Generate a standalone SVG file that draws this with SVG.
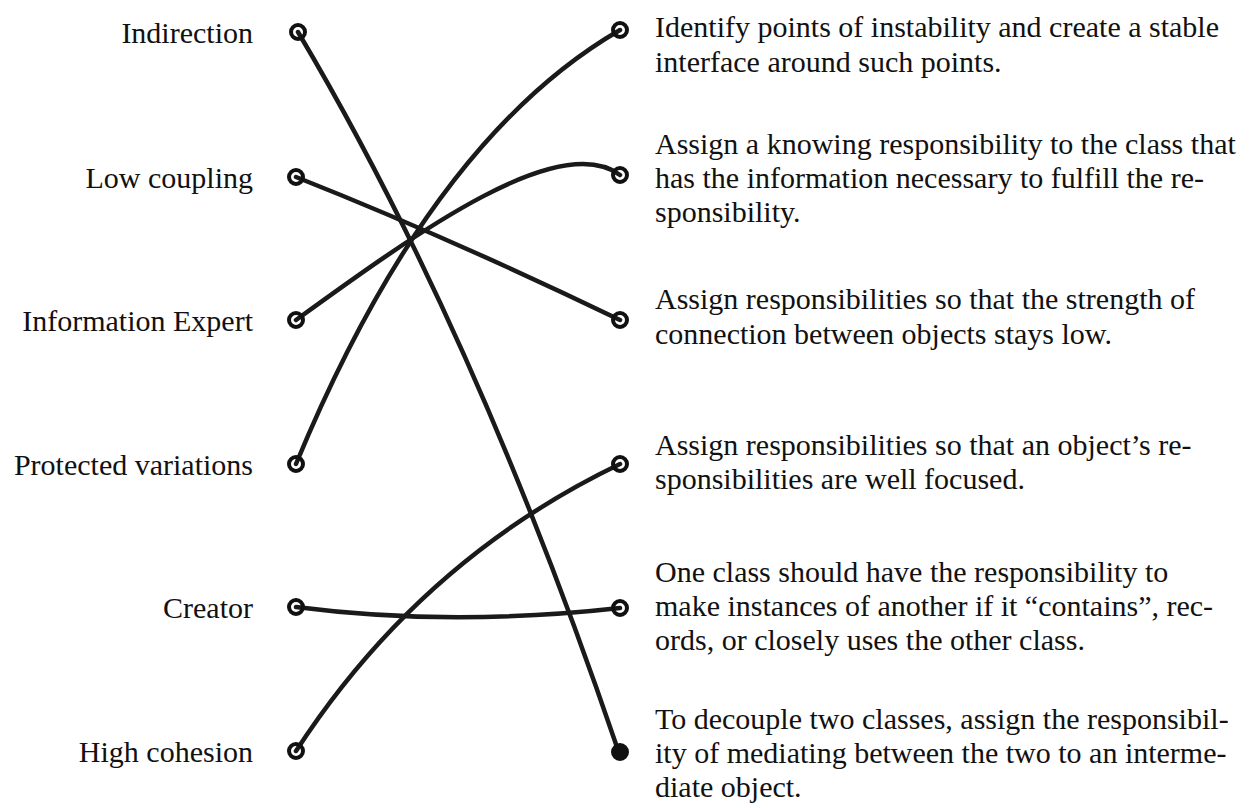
<svg xmlns="http://www.w3.org/2000/svg" width="1250" height="808" viewBox="0 0 1250 808">
<defs>
<style>
.e{fill:none;stroke:#1a1a1a;stroke-width:4.5;stroke-linecap:round}
.c{fill:none;stroke:#111;stroke-width:4}
</style>
</defs>
<rect width="1250" height="808" fill="#fff"/>
<g id="connectors">
<path class="e" d="M298,32 Q475,330 618,750"/>
<path class="e" d="M296,177 Q450,238 620,320"/>
<path class="e" d="M296,320 C420,230 560,130 620,175"/>
<path class="e" d="M296,464 Q430,140 620,30"/>
<path class="e" d="M296,607 Q450,627 620,608"/>
<path class="e" d="M296,751 Q420,560 620,464"/>
</g>
<g font-family="Liberation Serif, Times New Roman, DejaVu Serif, serif" font-size="30" fill="#111">
<g id="left-indirection"><text text-anchor="end" x="253" y="43">Indirection</text><circle class="c" cx="298" cy="32" r="7"/></g>
<g id="left-lowcoupling"><text text-anchor="end" x="253" y="188">Low coupling</text><circle class="c" cx="296" cy="177" r="7"/></g>
<g id="left-infoexpert"><text text-anchor="end" x="253" y="331">Information Expert</text><circle class="c" cx="296" cy="320" r="7"/></g>
<g id="left-protected"><text text-anchor="end" x="253" y="475">Protected variations</text><circle class="c" cx="296" cy="464" r="7"/></g>
<g id="left-creator"><text text-anchor="end" x="253" y="618">Creator</text><circle class="c" cx="296" cy="607" r="7"/></g>
<g id="left-highcohesion"><text text-anchor="end" x="253" y="762">High cohesion</text><circle class="c" cx="296" cy="751" r="7"/></g>
<g id="right-1"><circle class="c" cx="620" cy="30" r="7"/><text x="655" y="37">Identify points of instability and create a stable</text><text x="655" y="72">interface around such points.</text></g>
<g id="right-2"><circle class="c" cx="620" cy="175" r="7"/><text x="655" y="154">Assign a knowing responsibility to the class that</text><text x="655" y="188">has the information necessary to fulfill the re-</text><text x="655" y="222">sponsibility.</text></g>
<g id="right-3"><circle class="c" cx="620" cy="320" r="7"/><text x="655" y="309">Assign responsibilities so that the strength of</text><text x="655" y="344">connection between objects stays low.</text></g>
<g id="right-4"><circle class="c" cx="620" cy="464" r="7"/><text x="655" y="455">Assign responsibilities so that an object’s re-</text><text x="655" y="489">sponsibilities are well focused.</text></g>
<g id="right-5"><circle class="c" cx="620" cy="608" r="7"/><text x="655" y="582">One class should have the responsibility to</text><text x="655" y="616">make instances of another if it “contains”, rec-</text><text x="655" y="650">ords, or closely uses the other class.</text></g>
<g id="right-6"><circle class="c" cx="620" cy="752" r="7" style="fill:#111"/><text x="655" y="729">To decouple two classes, assign the responsibil-</text><text x="655" y="763">ity of mediating between the two to an interme-</text><text x="655" y="797">diate object.</text></g>
</g>
</svg>
